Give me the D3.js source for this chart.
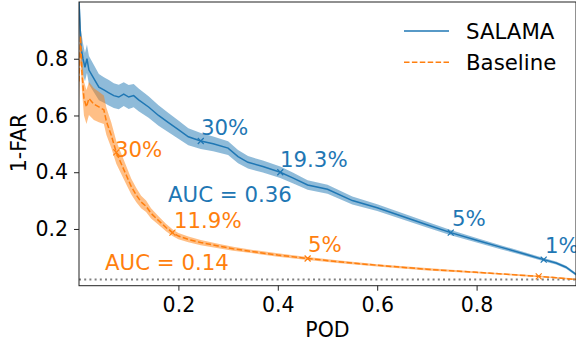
<!DOCTYPE html>
<html>
<head>
<meta charset="utf-8">
<script src="https://cdn.jsdelivr.net/npm/d3@7"></script>
<style>
  html, body { margin: 0; padding: 0; background: #fff; }
  svg { display: block; font-family: 'DejaVu Sans', sans-serif; }
</style>
</head>
<body>
<svg id="chart" width="576" height="344"></svg>
<script>
// POD (x) vs 1-FAR (y) curves
const salamaX = [0, 0.002, 0.004, 0.008, 0.012, 0.016, 0.02, 0.03, 0.04, 0.05, 0.06, 0.07, 0.08, 0.09, 0.1, 0.11, 0.12, 0.14, 0.16, 0.18, 0.2, 0.22, 0.245, 0.27, 0.3, 0.32, 0.34, 0.37, 0.405, 0.43, 0.46, 0.5, 0.55, 0.6, 0.65, 0.7, 0.748, 0.8, 0.85, 0.9, 0.935, 0.96, 0.98, 1.0]
const salamaY = [1.0, 0.92, 0.84, 0.80, 0.77, 0.80, 0.76, 0.73, 0.70, 0.69, 0.68, 0.67, 0.665, 0.675, 0.665, 0.67, 0.655, 0.63, 0.60, 0.575, 0.55, 0.525, 0.51, 0.50, 0.485, 0.455, 0.435, 0.42, 0.40, 0.38, 0.355, 0.34, 0.30, 0.275, 0.245, 0.215, 0.187, 0.16, 0.135, 0.11, 0.092, 0.08, 0.065, 0.04]
const salamaErr = [0.08, 0.07, 0.06, 0.055, 0.05, 0.05, 0.05, 0.048, 0.046, 0.045, 0.045, 0.044, 0.043, 0.042, 0.042, 0.041, 0.04, 0.038, 0.036, 0.034, 0.032, 0.03, 0.028, 0.026, 0.024, 0.023, 0.022, 0.021, 0.02, 0.019, 0.017, 0.016, 0.014, 0.012, 0.011, 0.01, 0.009, 0.008, 0.007, 0.006, 0.006, 0.005, 0.005, 0.005]

const baseX = [0, 0.003, 0.006, 0.01, 0.015, 0.02, 0.03, 0.04, 0.05, 0.055, 0.065, 0.075, 0.085, 0.095, 0.105, 0.115, 0.125, 0.135, 0.145, 0.16, 0.175, 0.188, 0.2, 0.22, 0.245, 0.28, 0.31, 0.35, 0.4, 0.46, 0.52, 0.6, 0.7, 0.8, 0.925, 0.96, 1.0]
const baseY = [0.72, 0.88, 0.75, 0.66, 0.63, 0.66, 0.64, 0.63, 0.62, 0.58, 0.53, 0.47, 0.43, 0.39, 0.35, 0.32, 0.295, 0.28, 0.255, 0.23, 0.205, 0.187, 0.175, 0.163, 0.152, 0.14, 0.13, 0.12, 0.108, 0.096, 0.085, 0.072, 0.058, 0.047, 0.033, 0.028, 0.022]
const baseErr = [0.08, 0.07, 0.065, 0.06, 0.06, 0.058, 0.056, 0.054, 0.05, 0.048, 0.045, 0.04, 0.036, 0.032, 0.028, 0.025, 0.022, 0.02, 0.018, 0.015, 0.013, 0.012, 0.011, 0.01, 0.009, 0.008, 0.007, 0.006, 0.006, 0.005, 0.005, 0.004, 0.004, 0.003, 0.003, 0.003, 0.003]

// threshold markers and their labels
const salamaMarks = [[0.245, 0.51, '30%'], [0.405, 0.40, '19.3%'], [0.748, 0.187, '5%'], [0.935, 0.092, '1%']]
const baseMarks = [[0.075, 0.47, '30%'], [0.188, 0.187, '11.9%'], [0.46, 0.096, '5%'], [0.925, 0.033, '5%']]
const aucLabels = ['AUC = 0.36', 'AUC = 0.14']
const chanceLevel = 0.022

const xTicks = [0.2, 0.4, 0.6, 0.8]
const yTicks = [0.2, 0.4, 0.6, 0.8]

const BLUE = '#1f77b4'
const ORANGE = '#ff7f0e'
const FS = 20.5
const FS_NOTE = 21.3

const svg = d3.select('#chart')
const mLeft = 79, mRight = 576, mTop = 2, mBottom = 285.7
const x = d3.scaleLinear().domain([0, 1]).range([mLeft, mRight])
const y = d3.scaleLinear().domain([0, 1]).range([mBottom, mTop])

svg.append('defs').append('clipPath').attr('id', 'clip')
  .append('rect').attr('x', mLeft).attr('y', mTop).attr('width', mRight - mLeft).attr('height', mBottom - mTop)

const plot = svg.append('g').attr('clip-path', 'url(#clip)')

function series(xs, ys, es) {
  return xs.map((v, i) => ({ x: v, y: ys[i], e: es[i] }))
}
const salama = series(salamaX, salamaY, salamaErr)
const base = series(baseX, baseY, baseErr)

const area = d3.area().x(d => x(d.x)).y0(d => y(d.y - d.e)).y1(d => y(d.y + d.e))
const line = d3.line().x(d => x(d.x)).y(d => y(d.y))

plot.append('line')
  .attr('x1', mLeft).attr('x2', mRight)
  .attr('y1', y(chanceLevel)).attr('y2', y(chanceLevel))
  .attr('stroke', '#808080').attr('stroke-width', 2).attr('stroke-dasharray', '2,3.2')

plot.append('path').datum(salama).attr('d', area).attr('fill', BLUE).attr('fill-opacity', 0.5)
plot.append('path').datum(base).attr('d', area).attr('fill', ORANGE).attr('fill-opacity', 0.5)
plot.append('path').datum(salama).attr('d', line).attr('fill', 'none').attr('stroke', BLUE).attr('stroke-width', 1.5)
plot.append('path').datum(base).attr('d', line).attr('fill', 'none').attr('stroke', ORANGE).attr('stroke-width', 1.5).attr('stroke-dasharray', '5.5,2.4')

function drawMarks(marks, color) {
  marks.forEach(m => {
    const cx = x(m[0]), cy = y(m[1]), s = 3
    plot.append('path')
      .attr('d', `M${cx - s},${cy - s}L${cx + s},${cy + s}M${cx - s},${cy + s}L${cx + s},${cy - s}`)
      .attr('stroke', color).attr('stroke-width', 1.2)
  })
}
drawMarks(salamaMarks, BLUE)
drawMarks(baseMarks, ORANGE)

// annotation text, placed next to each marker
const salamaLabelPos = [[201, 135], [280, 167], [452, 226], [545, 253]]
const baseLabelPos = [[115, 157], [174, 228], [308, 252]]
const labels = svg.append('g').attr('font-size', FS_NOTE)
salamaMarks.forEach((m, i) => {
  labels.append('text').attr('x', salamaLabelPos[i][0]).attr('y', salamaLabelPos[i][1]).attr('fill', BLUE).text(m[2])
})
baseLabelPos.forEach((p, i) => {
  labels.append('text').attr('x', p[0]).attr('y', p[1]).attr('fill', ORANGE).text(baseMarks[i][2])
})
labels.append('text').attr('x', 168).attr('y', 202).attr('fill', BLUE).text(aucLabels[0])
labels.append('text').attr('x', 105).attr('y', 270).attr('fill', ORANGE).text(aucLabels[1])

// frame
svg.append('rect').attr('x', mLeft).attr('y', mTop).attr('width', mRight - mLeft).attr('height', mBottom - mTop)
  .attr('fill', 'none').attr('stroke', '#222').attr('stroke-width', 1)

const xAxis = svg.append('g').attr('transform', `translate(0,${mBottom})`)
  .call(d3.axisBottom(x).tickValues(xTicks).tickSize(5).tickPadding(6.5).tickFormat(d3.format('.1f')))
const yAxis = svg.append('g').attr('transform', `translate(${mLeft},0)`)
  .call(d3.axisLeft(y).tickValues(yTicks).tickSize(5).tickPadding(6).tickFormat(d3.format('.1f')))
;[xAxis, yAxis].forEach(a => {
  a.select('.domain').remove()
  a.selectAll('.tick line').attr('stroke', '#222')
  a.selectAll('text').attr('font-size', FS).attr('font-family', 'DejaVu Sans').attr('fill', '#000')
})

svg.append('text').attr('x', 327.5).attr('y', 337).attr('text-anchor', 'middle')
  .attr('font-size', FS).text('POD')
svg.append('text').attr('transform', 'translate(26,143) rotate(-90)').attr('text-anchor', 'middle')
  .attr('font-size', FS).text('1-FAR')

// legend
const legend = svg.append('g').attr('font-size', FS_NOTE)
const legendItems = [['SALAMA', BLUE, null], ['Baseline', ORANGE, '5.5,2.4']]
legendItems.forEach((it, i) => {
  const ly = 31 + i * 31.3
  legend.append('line').attr('x1', 404).attr('x2', 449).attr('y1', ly).attr('y2', ly)
    .attr('stroke', it[1]).attr('stroke-width', 1.5).attr('stroke-dasharray', it[2])
  legend.append('text').attr('x', 466).attr('y', ly + 8).attr('fill', '#000').text(it[0])
})
</script>
</body>
</html>
